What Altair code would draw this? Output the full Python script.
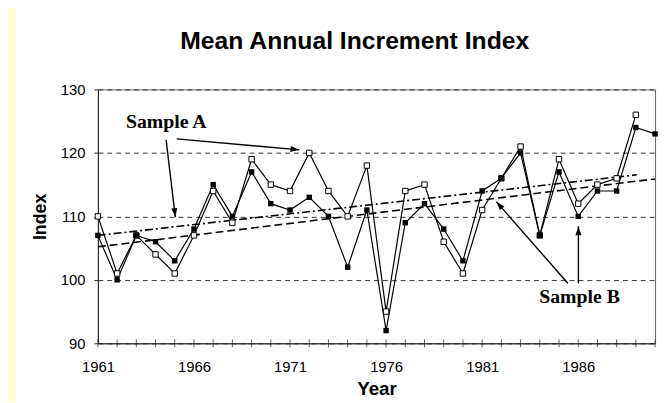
import math
import altair as alt
import pandas as pd

# ---------------- data ----------------
years = list(range(1961, 1991))
sample_a = [110, 101, 107, 104, 101, 107, 114, 109, 119, 115, 114, 120, 114, 110, 118,
            95, 114, 115, 106, 101, 111, 116, 121, 107, 119, 112, 115, 116, 126]  # 1961-1989
sample_b = [107, 100, 107, 106, 103, 108, 115, 110, 117, 112, 111, 113, 110, 102, 111,
            92, 109, 112, 108, 103, 114, 116, 120, 107, 117, 110, 114, 114, 124, 123]  # 1961-1990

trend_a_years = [1961, 1989.05]
trend_a_vals = [107.0, 116.55]
trend_b_years = [1961, 1990]
trend_b_vals = [105.2, 115.9]

y_ticks = [90, 100, 110, 120, 130]

# annotation arrows (start year, start value, tip year, tip value)
arrow_x1 = [1965.10, 1964.55, 1985.46, 1986.01]
arrow_y1 = [122.20, 122.04, 99.45, 99.45]
arrow_x2 = [1971.49, 1965.03, 1981.74, 1986.01]
arrow_y2 = [120.48, 109.89, 112.32, 108.43]

label_text = ["Sample A", "Sample B"]
label_x = [1962.46, 1983.97]
label_y = [124.0, 96.34]

title_text = ["Mean Annual Increment Index"]

# ---------------- layout ----------------
W, H = 564, 257
X_DOM = [1961, 1990]
Y_DOM = [90, 130]
px_per_year = W / (X_DOM[1] - X_DOM[0])
px_per_unit = H / (Y_DOM[1] - Y_DOM[0])

df_a = pd.DataFrame({"year": years[:len(sample_a)], "value": sample_a})
df_b = pd.DataFrame({"year": years, "value": sample_b})
df_ta = pd.DataFrame({"year": trend_a_years, "value": trend_a_vals})
df_tb = pd.DataFrame({"year": trend_b_years, "value": trend_b_vals})
df_ticks = pd.DataFrame({"year": years})

angles = []
for x1, y1, x2, y2 in zip(arrow_x1, arrow_y1, arrow_x2, arrow_y2):
    dx = (x2 - x1) * px_per_year
    dy = -(y2 - y1) * px_per_unit
    angles.append(math.degrees(math.atan2(dx, -dy)) % 360)
df_arr = pd.DataFrame({"year": arrow_x1, "value": arrow_y1, "x2": arrow_x2, "y2": arrow_y2,
                       "angle": angles})
df_lab = pd.DataFrame({"text": label_text, "year": label_x, "value": label_y})

xscale = alt.Scale(domain=X_DOM, nice=False, zero=False)
yscale = alt.Scale(domain=Y_DOM, nice=False, zero=False)

x_axis = alt.Axis(
    values=years, format="d",
    labelExpr="(datum.value - 1961) % 5 == 0 ? datum.label : ''",
    labelFlush=False, labelOverlap=False,
    ticks=False, grid=False, domain=True, domainColor="#222", domainWidth=1,
    labelFont="Liberation Sans", labelFontSize=15, labelColor="black", labelPadding=17,
    title="Year", titleFont="Liberation Sans", titleFontSize=19, titleFontWeight="bold",
    titleColor="black", titlePadding=5,
)
y_axis = alt.Axis(
    values=y_ticks, format="d",
    grid=True, gridDash=[5, 4], gridColor="#333", gridWidth=1,
    ticks=True, tickSize=4, tickColor="#222", domainColor="#222",
    labelFont="Liberation Sans", labelFontSize=15, labelColor="black", labelPadding=9,
    title="Index", titleFont="Liberation Sans", titleFontSize=18, titleFontWeight="bold",
    titleColor="black", titlePadding=11,
)

X = alt.X("year:Q", scale=xscale, axis=x_axis, title="Year")
Y = alt.Y("value:Q", scale=yscale, axis=y_axis, title="Index")

line_a = alt.Chart(df_a).mark_line(color="black", strokeWidth=1.2).encode(x=X, y=Y)
line_b = alt.Chart(df_b).mark_line(color="black", strokeWidth=1.2).encode(x=X, y=Y)

trend_a = alt.Chart(df_ta).mark_line(color="black", strokeWidth=1.6,
                                     strokeDash=[8, 3, 2, 3]).encode(x=X, y=Y)
trend_b = alt.Chart(df_tb).mark_line(color="black", strokeWidth=1.6,
                                     strokeDash=[8, 4]).encode(x=X, y=Y)

xticks = alt.Chart(df_ticks).mark_tick(orient="vertical", size=8, thickness=1,
                                       color="#222").encode(x=X, y=alt.datum(90))

pts_a = alt.Chart(df_a).mark_point(shape="square", size=30, filled=True, fill="white",
                                   stroke="black", strokeWidth=1, opacity=1).encode(x=X, y=Y)
pts_b = alt.Chart(df_b).mark_point(shape="square", size=30, filled=True, color="black",
                                   opacity=1).encode(x=X, y=Y)

arrows = alt.Chart(df_arr).mark_rule(color="black", strokeWidth=1.4).encode(
    x=X, y=Y, x2="x2:Q", y2="y2:Q")
heads = alt.Chart(df_arr).mark_point(
    shape="M0,0L-0.6,1.8L0.6,1.8Z", size=100, filled=True, color="black", opacity=1,
    strokeWidth=0,
).encode(
    x=alt.X("x2:Q", scale=xscale, axis=x_axis, title="Year"),
    y=alt.Y("y2:Q", scale=yscale, axis=y_axis, title="Index"),
    angle=alt.Angle("angle:Q", scale=None),
)

labels = alt.Chart(df_lab).mark_text(
    font="Liberation Serif", fontSize=20, fontWeight="bold", align="left",
    baseline="alphabetic", color="black",
).encode(x=X, y=Y, text="text:N")

title = alt.Chart(pd.DataFrame({"t": title_text})).mark_text(
    font="Liberation Sans", fontSize=25, fontWeight="bold", align="center",
    baseline="alphabetic", color="black",
).encode(x=alt.value(W / 2 - 22), y=alt.value(-41), text="t:N")

# yellow strip at the left edge of the picture
strip = alt.Chart(pd.DataFrame({"k": [0]})).mark_rect(color="#FFFFCC").encode(
    x=alt.value(-92), x2=alt.value(-83), y=alt.value(-90), y2=alt.value(H + 60)
)

chart = alt.layer(
    line_a, line_b, trend_a, trend_b, xticks, arrows, heads, pts_a, pts_b, labels,
    title, strip
).properties(
    width=W, height=H,
    autosize=alt.AutoSizeParams(type="none"),
    padding={"left": 91, "top": 80, "right": 5, "bottom": 58},
    background="white",
).configure_view(stroke="#666", strokeWidth=1)

chart.save("out.html", embed_options={"renderer": "svg", "actions": False})
